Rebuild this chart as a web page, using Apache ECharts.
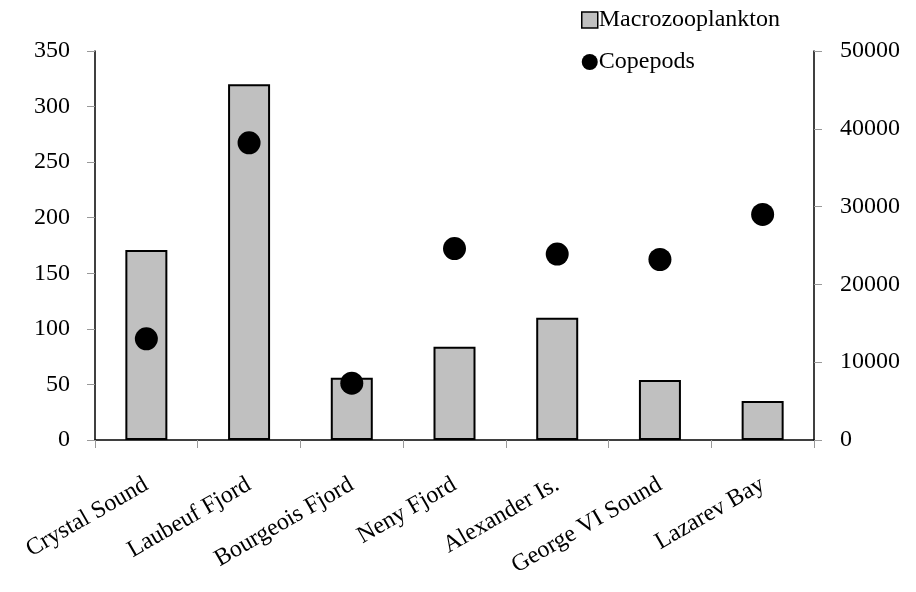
<!DOCTYPE html>
<html><head><meta charset="utf-8">
<script src="https://cdn.jsdelivr.net/npm/echarts@6/dist/echarts.min.js"></script>
<style>html,body{margin:0;padding:0;background:#fff}#c{width:916px;height:592px}</style>
</head><body><div id="c"></div>
<script>
var categories = ["Crystal Sound","Laubeuf Fjord","Bourgeois Fjord","Neny Fjord","Alexander Is.","George VI Sound","Lazarev Bay"];
var macrozooplankton = [171, 320, 56, 84, 110, 54, 35];
var copepods = [13000, 38200, 7300, 24600, 23900, 23200, 29000];
var leftTicks = {min: 0, max: 350, interval: 50};
var rightTicks = {min: 0, max: 50000, interval: 10000};

var FONT = "Liberation Serif";
var chart = echarts.init(document.getElementById('c'));
chart.setOption({
  animation: false,
  textStyle: {fontFamily: FONT},
  grid: {left: 95, right: 102, top: 51, bottom: 152, containLabel: false},
  legend: {
    orient: 'vertical', left: 576, top: 3, itemGap: 18,
    itemWidth: 16, itemHeight: 16,
    textStyle: {fontFamily: FONT, fontSize: 24, color: '#000', padding: [0,0,0,-4]},
    data: [
      {name: 'Macrozooplankton', icon: 'rect', itemStyle: {color: '#c0c0c0', borderColor: '#000', borderWidth: 1.5}},
      {name: 'Copepods', icon: 'circle', itemStyle: {color: '#000', opacity: 1}}
    ]
  },
  xAxis: {
    type: 'category', data: categories, boundaryGap: true,
    axisLine: {lineStyle: {color: '#000', width: 1.5}},
    axisTick: {show: true, length: 8, lineStyle: {color: '#999'}},
    axisLabel: {rotate: 30, fontFamily: FONT, fontSize: 24, color: '#000', margin: 43, interval: 0}
  },
  yAxis: [
    {
      type: 'value', min: leftTicks.min, max: leftTicks.max, interval: leftTicks.interval,
      axisLine: {show: true, lineStyle: {color: '#000', width: 1.5}},
      axisTick: {show: true, length: 8, lineStyle: {color: '#999'}},
      splitLine: {show: false},
      axisLabel: {fontFamily: FONT, fontSize: 24, color: '#000', margin: 25}
    },
    {
      type: 'value', position: 'right', min: rightTicks.min, max: rightTicks.max, interval: rightTicks.interval,
      axisLine: {show: true, lineStyle: {color: '#000', width: 1.5}},
      axisTick: {show: true, length: 8, lineStyle: {color: '#999'}},
      splitLine: {show: false},
      axisLabel: {fontFamily: FONT, fontSize: 24, color: '#000', margin: 26, formatter: function (v) { return String(v); }}
    }
  ],
  series: [
    {
      name: 'Macrozooplankton', type: 'bar', data: macrozooplankton, barWidth: 42, yAxisIndex: 0,
      itemStyle: {color: '#c0c0c0', borderColor: '#000', borderWidth: 2}
    },
    {
      name: 'Copepods', type: 'scatter', data: copepods, yAxisIndex: 1, symbol: 'circle', symbolSize: 23,
      itemStyle: {color: '#000', opacity: 1}, z: 5
    }
  ]
});
</script></body></html>
